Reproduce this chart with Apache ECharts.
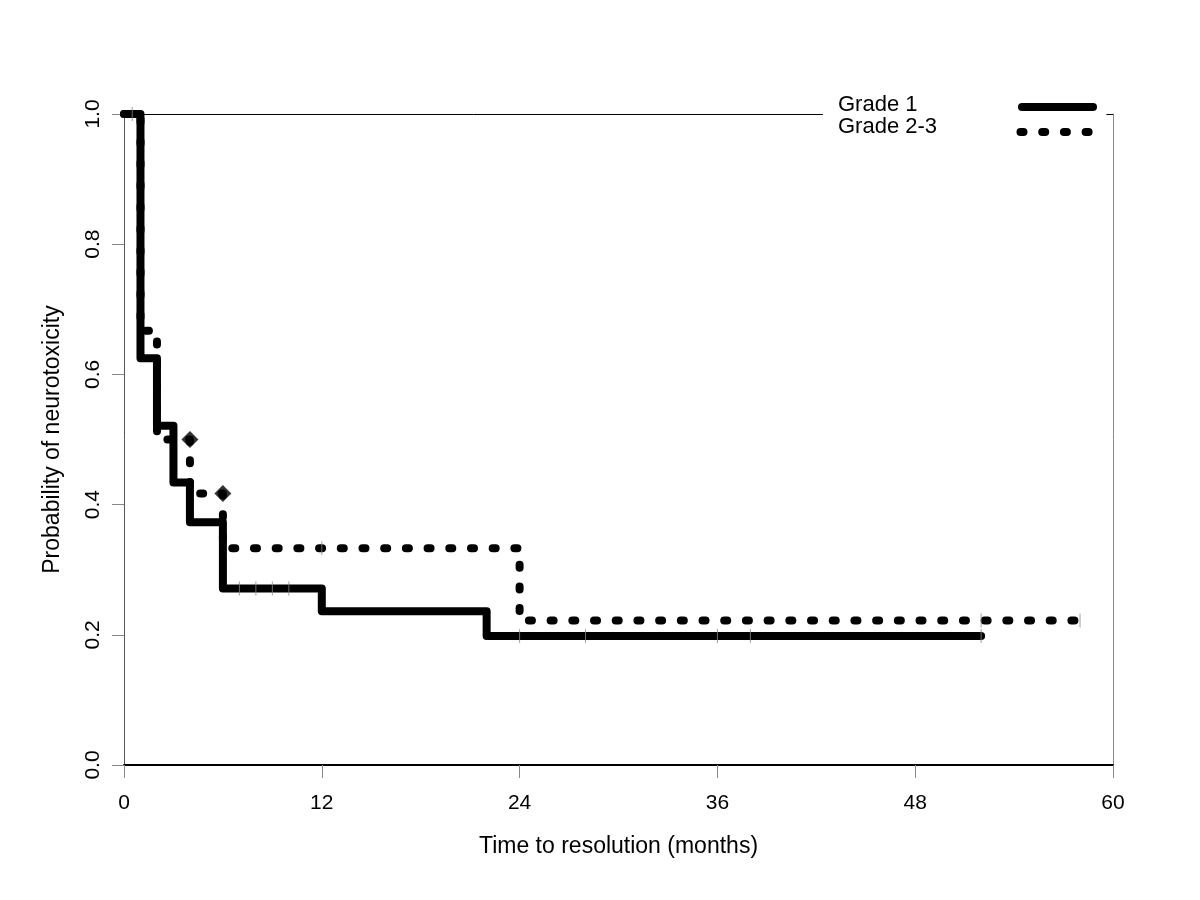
<!DOCTYPE html>
<html>
<head>
<meta charset="utf-8">
<script src="https://cdn.jsdelivr.net/npm/echarts@6/dist/echarts.min.js"></script>
<style>html,body{margin:0;padding:0;background:#fff}#c{width:1200px;height:900px}</style>
</head>
<body>
<div id="c"></div>
<script>
// Kaplan-Meier step points [months, probability]
var grade1 = [[0,1],[1,0.625],[2,0.521],[3,0.434],[4,0.373],[6,0.271],[12,0.236],[22,0.198],[52,0.198]];
var grade23 = [[0,1],[1,0.667],[2,0.5],[4,0.417],[6,0.333],[24,0.222],[58,0.222]];
// censor ticks
var censor1 = [[0.5,1],[7,0.271],[8,0.271],[9,0.271],[10,0.271],[24,0.198],[28,0.198],[36,0.198],[38,0.198],[52,0.198]];
var censor23 = [[12,0.333],[52,0.222],[58,0.222]];
var censorDiamond = [[4,0.5],[6,0.417]];
var xTicks = [0,12,24,36,48,60];
var seriesNames = ['Grade 1','Grade 2-3'];

var FONT = "'Liberation Sans', Arial, sans-serif";
var chart = echarts.init(document.getElementById('c'));
chart.setOption({
  animation: false,
  backgroundColor: '#fff',
  grid: {left: 124, right: 87, top: 114, bottom: 135},
  xAxis: {
    type: 'value', min: 0, max: 60, interval: 12,
    name: 'Time to resolution (months)', nameLocation: 'middle', nameGap: 70,
    nameTextStyle: {fontFamily: FONT, fontSize: 23, color: '#000'},
    axisLine: {lineStyle: {color: '#000', width: 2}},
    axisTick: {length: 13, lineStyle: {color: '#888', width: 1}},
    axisLabel: {fontFamily: FONT, fontSize: 21, color: '#000', margin: 28,
      formatter: function(v){ return xTicks.indexOf(v) >= 0 ? String(v) : ''; }},
    splitLine: {show: false}
  },
  yAxis: [{
    type: 'value', min: 0, max: 1, interval: 0.2,
    name: 'Probability of neurotoxicity', nameLocation: 'middle', nameGap: 60,
    nameTextStyle: {fontFamily: FONT, fontSize: 23, color: '#000'},
    axisLine: {show: true, lineStyle: {color: '#555', width: 1}},
    axisTick: {show: true, length: 12, lineStyle: {color: '#888', width: 1}},
    axisLabel: {fontFamily: FONT, fontSize: 21, color: '#000', rotate: 90, margin: 20,
      formatter: function(v){ return v.toFixed(1); }},
    splitLine: {show: false}
  }, {
    type: 'value', min: 0, max: 1, position: 'right',
    axisLine: {show: true, lineStyle: {color: '#888', width: 1}},
    axisTick: {show: false}, axisLabel: {show: false}, splitLine: {show: false}
  }],
  series: [{
    name: seriesNames[0], type: 'line', step: 'end', data: grade1,
    symbol: 'none', z: 4,
    lineStyle: {color: '#000', width: 8, cap: 'round', join: 'round'},
    markLine: {
      silent: true, symbol: 'none', label: {show: false},
      lineStyle: {color: '#000', width: 1, type: 'solid'},
      data: [[{coord: [0, 1]}, {coord: [42.4, 1]}], [{coord: [59.6, 1]}, {coord: [60, 1]}]]
    }
  }, {
    name: seriesNames[1], type: 'line', step: 'end', data: grade23,
    symbol: 'none', z: 3,
    lineStyle: {color: '#000', width: 8, type: [3, 18.7], cap: 'round', join: 'round'}
  }, {
    type: 'scatter', data: censor1.concat(censor23), symbol: 'rect', symbolSize: [1, 14],
    itemStyle: {color: '#888'}, z: 5, silent: true
  }, {
    type: 'scatter', data: censorDiamond, symbol: 'diamond', symbolSize: 17,
    itemStyle: {color: '#000'}, z: 6, silent: true
  }],
  graphic: [
    {type: 'text', left: 838, top: 94, style: {text: seriesNames[0], font: '22px ' + FONT, fill: '#000'}},
    {type: 'text', left: 838, top: 116, style: {text: seriesNames[1], font: '22px ' + FONT, fill: '#000'}},
    {type: 'line', shape: {x1: 1022, y1: 107, x2: 1093, y2: 107},
      style: {stroke: '#000', lineWidth: 8, lineCap: 'round'}},
    {type: 'line', shape: {x1: 1020.5, y1: 132, x2: 1092, y2: 132},
      style: {stroke: '#000', lineWidth: 8, lineCap: 'round', lineDash: [3, 18.7]}}
  ]
});
</script>
</body>
</html>
